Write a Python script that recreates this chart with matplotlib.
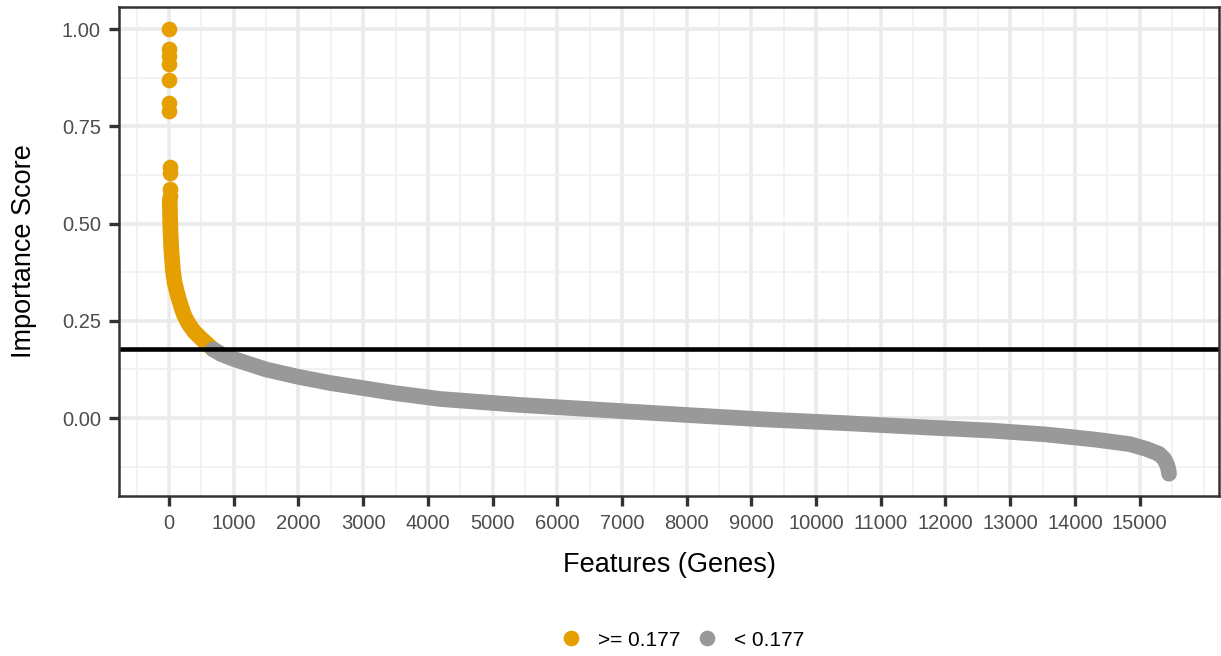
"""
importance score of features, sorted, with cut-off line
"""

import numpy as np
import matplotlib.pyplot as plt
from matplotlib.lines import Line2D
from matplotlib.ticker import FixedLocator, MultipleLocator, FormatStrFormatter

plt.rcParams['font.family'] = ['Liberation Sans', 'DejaVu Sans']

############################## data ######################################################
cutoff = 0.177

# a few single top-ranked genes
top_rank = [0, 1, 2, 3, 4, 5, 6, 7, 8, 9, 10]
top_score = [1.00, 0.95, 0.93, 0.91, 0.87, 0.81, 0.79, 0.645, 0.63, 0.59, 0.57]

# rest of the genes above the cut-off
hi_rank = [11, 20, 35, 60, 85, 120, 150, 190, 235, 300, 390, 500, 600, 680]
hi_score = [0.56, 0.49, 0.434, 0.38, 0.349, 0.325, 0.307, 0.285, 0.264, 0.243,
            0.222, 0.204, 0.189, 0.177]

# genes below the cut-off
lo_rank = [680, 800, 1000, 1500, 2000, 2500, 3000, 3500, 4200, 5400, 6700, 8000,
           9150, 10450, 11700, 12700, 13550, 14300, 14850, 15100, 15300, 15380,
           15420, 15445, 15455]
lo_score = [0.177, 0.165, 0.152, 0.125, 0.106, 0.090, 0.077, 0.064, 0.049, 0.034,
            0.021, 0.008, -0.003, -0.013, -0.024, -0.032, -0.042, -0.055, -0.067,
            -0.079, -0.092, -0.105, -0.118, -0.132, -0.143]

x_ticks = [0, 1000, 2000, 3000, 4000, 5000, 6000, 7000, 8000, 9000, 10000,
           11000, 12000, 13000, 14000, 15000]
y_ticks = [0.00, 0.25, 0.50, 0.75, 1.00]

labels = ['>= 0.177', '< 0.177']
colors = ['#E69F00', '#999999']

############################## plot ###############################
fig = plt.figure(figsize=(12.21, 6.56), dpi=100)
ax = fig.add_axes([0.0975, 0.244, 0.9009, 0.7454])

pt = 11.3  # point diameter in pt
ax.plot(top_rank, top_score, 'o', ms=pt, color=colors[0], mew=0, zorder=3)
ax.plot(hi_rank, hi_score, color=colors[0], lw=pt, solid_capstyle='round',
        solid_joinstyle='round', zorder=3)
ax.plot(lo_rank, lo_score, color=colors[1], lw=pt, solid_capstyle='round',
        solid_joinstyle='round', zorder=4)
ax.axhline(cutoff, color='black', lw=3.3, zorder=5)

# ggplot style 5% expansion
all_x = top_rank + hi_rank + lo_rank
all_y = top_score + hi_score + lo_score
dx = (max(all_x) - min(all_x)) * 0.05
dy = (max(all_y) - min(all_y)) * 0.05
ax.set_xlim(min(all_x) - dx, max(all_x) + dx)
ax.set_ylim(min(all_y) - dy, max(all_y) + dy)

ax.xaxis.set_major_locator(FixedLocator(x_ticks))
ax.xaxis.set_minor_locator(MultipleLocator(500))
ax.yaxis.set_major_locator(FixedLocator(y_ticks))
ax.yaxis.set_minor_locator(MultipleLocator(0.125))
ax.yaxis.set_major_formatter(FormatStrFormatter('%.2f'))

ax.grid(which='major', color='#EBEBEB', lw=2.6)
ax.grid(which='minor', color='#F0F0F0', lw=1.2)
ax.set_axisbelow(True)

for s in ax.spines.values():
    s.set_color('#333333')
    s.set_linewidth(1.8)
    s.set_zorder(6)

ax.tick_params(which='major', length=7.5, width=2.4, color='#333333',
               labelsize=14.5, labelcolor='#4D4D4D', pad=5.5)
ax.tick_params(which='minor', length=0)

ax.set_xlabel('Features (Genes)', fontsize=19.5, labelpad=14)
ax.set_ylabel('Importance Score', fontsize=19.5, labelpad=18)

handles = [Line2D([], [], ls='', marker='o', ms=pt, mew=0, color=c) for c in colors]
fig.legend(handles, labels, loc='center', bbox_to_anchor=(0.559, 1 - 640 / 656),
           ncol=2, frameon=False, fontsize=15, handlelength=1.0,
           handletextpad=0.8, columnspacing=0.8)

fig.savefig('out.png', dpi=100)
